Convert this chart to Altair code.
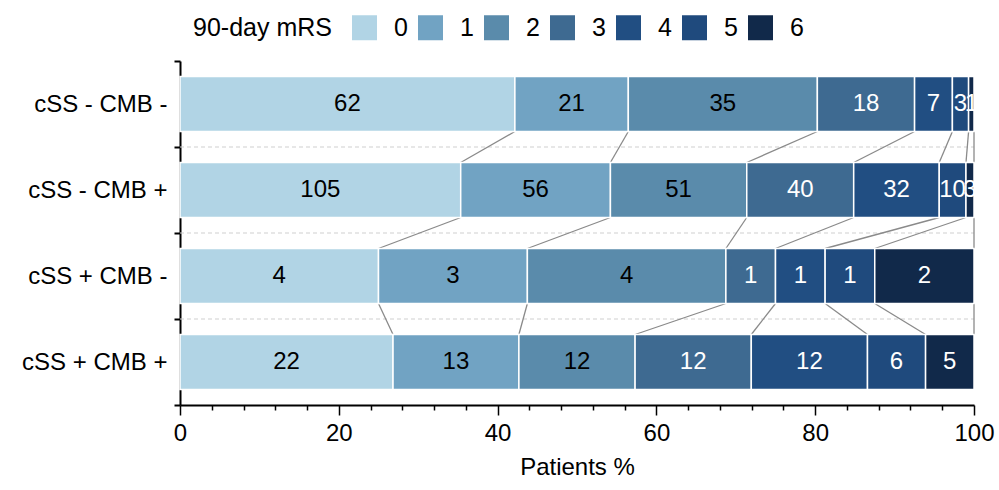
import altair as alt
import pandas as pd

# Patient groups (top to bottom) and 90-day modified Rankin Scale levels
groups = ["cSS - CMB -", "cSS - CMB +", "cSS + CMB -", "cSS + CMB +"]
mrs_levels = ["0", "1", "2", "3", "4", "5", "6"]

# Number of patients per mRS level within each group
counts_css_neg_cmb_neg = [62, 21, 35, 18, 7, 3, 1]
counts_css_neg_cmb_pos = [105, 56, 51, 40, 32, 10, 3]
counts_css_pos_cmb_neg = [4, 3, 4, 1, 1, 1, 2]
counts_css_pos_cmb_pos = [22, 13, 12, 12, 12, 6, 5]

# Tick positions on the percentage axis (labelled every 20)
x_tick_values = list(range(0, 101, 4))

palette = ["#b1d4e5", "#71a3c3", "#5a8bab", "#3e6a91", "#214e82", "#1f4a7d", "#11294a"]

FONT = "Liberation Sans"
FS = 24
FS_LEGEND = 25

records = []
for gi, (g, cs) in enumerate(zip(groups, [counts_css_neg_cmb_neg, counts_css_neg_cmb_pos,
                                          counts_css_pos_cmb_neg, counts_css_pos_cmb_pos])):
    for k, (m, c) in enumerate(zip(mrs_levels, cs)):
        records.append({"group": g, "gi": gi, "mrs": m, "k": k, "n": c})
df = pd.DataFrame(records)

y_scale = alt.Scale(domain=groups, paddingInner=0, paddingOuter=0)
x_scale = alt.Scale(domain=[0, 100], nice=False)

# Percentages and stacked segment edges per group
base = (
    alt.Chart(df)
    .transform_joinaggregate(total="sum(n)", groupby=["group"])
    .transform_calculate(pct="100 * datum.n / datum.total")
    .transform_window(cum="sum(pct)", groupby=["group"],
                      sort=[alt.SortField("k")], frame=[None, 0])
    .transform_calculate(start="datum.cum - datum.pct",
                         mid="datum.cum - datum.pct / 2")
)

x_axis = alt.Axis(
    values=x_tick_values,
    tickCount=len(x_tick_values) + 4,
    labelExpr="datum.value % 20 === 0 ? datum.label : ''",
    tickSize={"condition": {"test": "datum.value % 20 === 0", "value": 10}, "value": 5},
    title="Patients %",
    titleFontSize=FS, titleFont=FONT, titleFontWeight="normal", titleColor="black",
    titlePadding=10,
    labelFontSize=FS, labelFont=FONT, labelColor="black", labelPadding=6,
    labelOverlap=False, labelFlush=False,
    domainColor="black", domainWidth=2, tickColor="black", tickWidth=1.5,
    grid=False,
)

y_axis = alt.Axis(
    title=None, labelFontSize=FS, labelFont=FONT, labelColor="black",
    labelPadding=7, domainColor="black", domainWidth=2,
    tickColor="black", tickWidth=2, tickSize=6, tickBand="extent", grid=False,
)

bars = base.mark_bar(height=55, stroke="white", strokeWidth=1.5).encode(
    x=alt.X("start:Q", scale=x_scale, axis=x_axis),
    x2="cum:Q",
    y=alt.Y("group:N", scale=y_scale, axis=y_axis),
    color=alt.Color(
        "mrs:N",
        scale=alt.Scale(domain=mrs_levels, range=palette),
        legend=alt.Legend(
            title="90-day mRS", orient="none", legendX=13, legendY=-46,
            direction="horizontal", titleOrient="left", titleBaseline="middle",
            titleFontSize=FS_LEGEND, titleFont=FONT, titleFontWeight="normal",
            titleColor="black", titlePadding=20,
            labelFontSize=FS_LEGEND, labelFont=FONT, labelColor="black",
            symbolType="square", symbolSize=625, symbolStrokeWidth=0,
            symbolOpacity=1, labelOffset=17, columnPadding=10,
        ),
    ),
)

labels = base.mark_text(font=FONT, fontSize=FS, baseline="middle").encode(
    x=alt.X("mid:Q", scale=x_scale),
    y=alt.Y("group:N", scale=y_scale),
    text="n:Q",
    color=alt.condition("datum.k < 3", alt.value("black"), alt.value("white")),
)

# Lines linking each cumulative boundary to the same boundary in the next group
connectors = (
    base.transform_window(
        window=[
            alt.WindowFieldDef(op="lead", field="cum", **{"as": "next_cum"}),
            alt.WindowFieldDef(op="lead", field="group", **{"as": "next_group"}),
        ],
        groupby=["mrs"],
        sort=[alt.SortField("gi")],
    )
    .transform_filter("datum.next_group != null")
    .mark_rule(color="#8a8a8a", strokeWidth=1.3, yOffset=27.5, y2Offset=-27.5)
    .encode(
        x=alt.X("cum:Q", scale=x_scale),
        x2="next_cum:Q",
        y=alt.Y("group:N", scale=y_scale),
        y2=alt.Y2("next_group"),
    )
)

separators = (
    alt.Chart(pd.DataFrame({"group": groups[1:]}))
    .mark_rule(color="#cfcfcf", strokeDash=[4, 3], strokeWidth=1)
    .encode(
        y=alt.Y("group:N", scale=y_scale, bandPosition=0),
        x=alt.value(0),
        x2=alt.value(794),
    )
)

chart = (
    alt.layer(separators, connectors, bars, labels)
    .properties(
        width=794, height=344, autosize="none",
        padding={"left": 180, "top": 61, "right": 25, "bottom": 85},
    )
    .configure_view(stroke=None)
)

chart.save("out.html", embed_options={"renderer": "svg", "actions": False})
